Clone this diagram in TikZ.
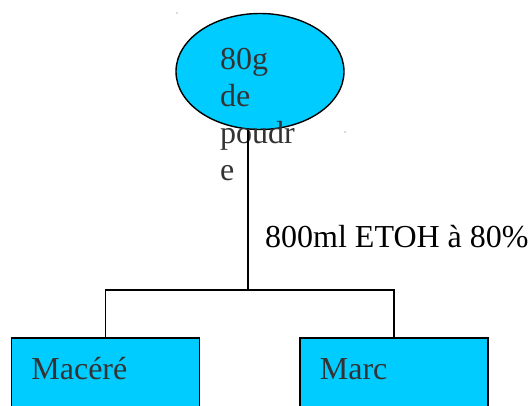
\documentclass[tikz,border=0pt]{standalone}
\usepackage{fontspec}
\setmainfont{Liberation Serif}
\usepackage{xcolor}
\usetikzlibrary{positioning,shapes.geometric}
\definecolor{leafcyan}{RGB}{0,204,255}
\definecolor{inkgray}{RGB}{51,51,51}

\begin{document}
\begin{tikzpicture}[x=1pt,y=-1pt,src/.style={ellipse,draw,line width=1.4pt,fill=leafcyan,minimum width=168pt,minimum height=116pt,inner sep=0pt},leaf/.style={draw,line width=1.8pt,fill=leafcyan,anchor=north west,minimum width=188pt,text width=148pt,align=left,inner xsep=20pt,inner ysep=10pt,text height=32pt,text depth=30pt,font=\fontsize{32}{37}\selectfont,text=inkgray},txt/.style={inner sep=0pt,font=\fontsize{32}{37}\selectfont}]
\path[use as bounding box,clip] (0,0) rectangle (529,405);
\node[src] (powder) at (260,71.5) {};
\node[txt,text=inkgray,align=left,anchor=north west] (powdertext) at (220,48) {80g\\de\\poudr\\e};
\node[leaf] (macere) at (10.5,337) {Macéré};
\node[leaf] (marc) at (299,337) {Marc};
\coordinate (split) at (248,290);
\node[txt,anchor=base west] (dose) at (265,247) {800ml ETOH à 80\%};
\draw[line width=1.2pt] (split) -- (split |- powder.south);
\draw[line width=1.2pt] (macere.north) |- (split) -| (marc.north);
\fill[black!60] (177,13) circle (0.6pt) (345,132) circle (0.6pt);
\end{tikzpicture}
\end{document}
